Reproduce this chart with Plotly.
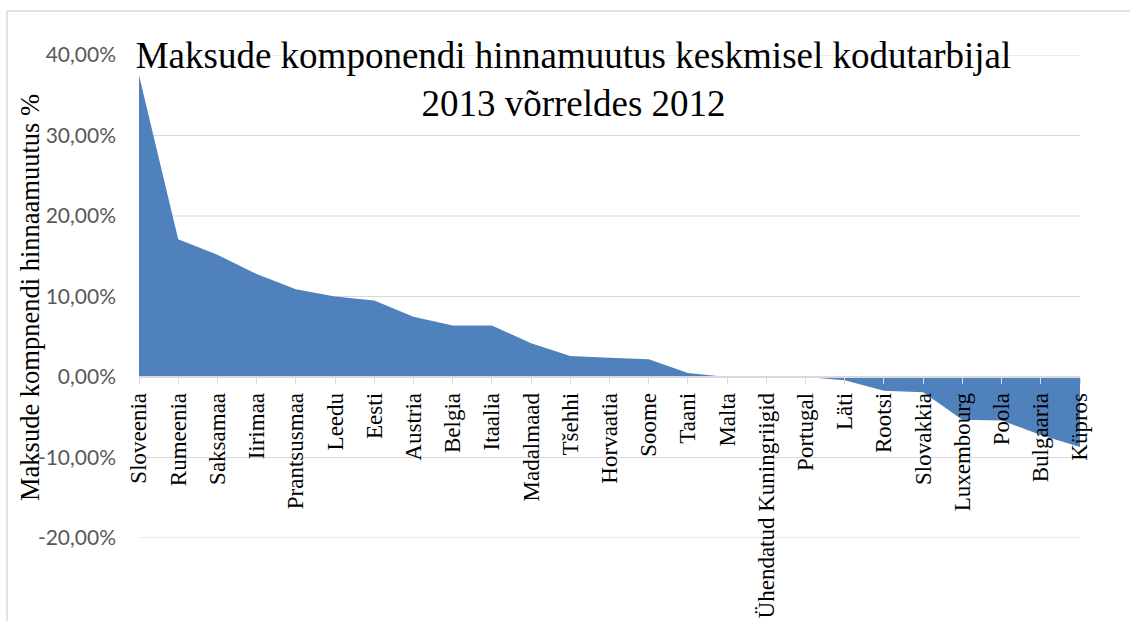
import plotly.graph_objects as go

# Countries, sorted by change
countries = [
    "Sloveenia", "Rumeenia", "Saksamaa", "Iirimaa", "Prantsusmaa", "Leedu", "Eesti",
    "Austria", "Belgia", "Itaalia", "Madalmaad", "Tšehhi", "Horvaatia", "Soome",
    "Taani", "Malta", "Ühendatud Kuningriigid", "Portugal", "Läti", "Rootsi",
    "Slovakkia", "Luxembourg", "Poola", "Bulgaaria", "Küpros",
]
# Tax component price change 2013 vs 2012 (fraction)
change = [
    0.375, 0.171, 0.152, 0.128, 0.109, 0.100, 0.095,
    0.075, 0.064, 0.064, 0.042, 0.026, 0.024, 0.022,
    0.005, 0.000, 0.000, 0.000, -0.004, -0.017,
    -0.019, -0.053, -0.054, -0.072, -0.087,
]
y_ticks = [-0.2, -0.1, 0.0, 0.1, 0.2, 0.3, 0.4]
y_tick_labels = ["-20,00%", "-10,00%", "0,00%", "10,00%", "20,00%", "30,00%", "40,00%"]

W, H = 1130, 621
L, R, T, B = 139, 50, 55, 83
PW, PH = W - L - R, H - T - B

serif = "Liberation Serif, Times New Roman, serif"
grid = "#D9D9D9"

fig = go.Figure()
fig.add_trace(go.Scatter(
    x=list(range(len(countries))),
    y=change,
    mode="lines",
    line=dict(width=0, color="#4F81BD"),
    fill="tozeroy",
    fillcolor="#4F81BD",
    hoverinfo="skip",
    showlegend=False,
))


def px_x(p):
    return (p - L) / PW


def px_y(p):
    return (H - B - p) / PH


y_min, y_max = -0.2, 0.4
zero_pos = (0 - y_min) / (y_max - y_min)

# horizontal gridlines drawn as shapes so the edge lines are kept too
grid_shapes = [
    dict(type="line", xref="paper", yref="y", x0=0, x1=1, y0=v, y1=v,
         line=dict(color=grid, width=1), layer="below")
    for v in y_ticks if v != 0
]

fig.update_layout(
    width=W, height=H,
    margin=dict(l=L, r=R, t=T, b=B, autoexpand=False),
    paper_bgcolor="white",
    plot_bgcolor="white",
    title=dict(
        text="Maksude komponendi hinnamuutus keskmisel kodutarbijal<br>2013 võrreldes 2012",
        font=dict(family=serif, size=37, color="black"),
        x=573.5 / W, xanchor="center", xref="container",
        y=1 - 68 / H, yanchor="top", yref="container",
    ),
    xaxis=dict(
        range=[0, len(countries) - 1],
        tickmode="array",
        tickvals=list(range(len(countries))),
        ticktext=countries,
        tickangle=-90,
        tickfont=dict(family=serif, size=23, color="black"),
        ticks="outside", ticklen=6, tickcolor=grid, tickwidth=1,
        showgrid=False, zeroline=False,
        showline=True, linecolor=grid, linewidth=1.5,
        anchor="free", position=zero_pos,
        automargin=False,
    ),
    yaxis=dict(
        range=[y_min, y_max],
        tickmode="array",
        tickvals=y_ticks,
        ticktext=y_tick_labels,
        tickfont=dict(family="Lato, Carlito, Calibri, sans-serif", size=21, color="#595959"),
        showgrid=False,
        zeroline=False, showline=False, ticks="",
        ticklabelstandoff=22,
        automargin=False,
    ),
    annotations=[dict(
        text="Maksude kompnendi hinnaamuutus %",
        textangle=-90,
        x=px_x(30), y=px_y(298), xref="paper", yref="paper",
        xanchor="center", yanchor="middle", showarrow=False,
        font=dict(family=serif, size=26.5, color="black"),
    )],
    shapes=grid_shapes + [
        dict(type="line", xref="paper", yref="paper",
             x0=px_x(7), y0=px_y(11), x1=px_x(W + 5), y1=px_y(11),
             line=dict(color=grid, width=1.5), layer="below"),
        dict(type="line", xref="paper", yref="paper",
             x0=px_x(7), y0=px_y(11), x1=px_x(7), y1=px_y(H + 5),
             line=dict(color=grid, width=1.5), layer="below"),
    ],
)

fig.write_html("out.html")
